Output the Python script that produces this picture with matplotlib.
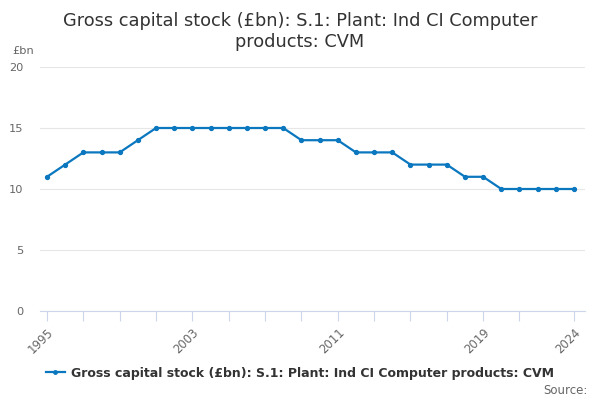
import matplotlib
matplotlib.use("Agg")
import matplotlib.pyplot as plt
from matplotlib.lines import Line2D

years = list(range(1995, 2025))
values = [11, 12, 13, 13, 13, 14, 15, 15, 15, 15, 15, 15, 15, 15, 14, 14, 14,
          13, 13, 13, 12, 12, 12, 11, 11, 10, 10, 10, 10, 10]
tick_years = list(range(1995, 2022, 2)) + [2024]
label_years = [1995, 2003, 2011, 2019, 2024]
y_ticks = [0, 5, 10, 15, 20]

title = "Gross capital stock (£bn): S.1: Plant: Ind CI Computer\nproducts: CVM"
series_name = "Gross capital stock (£bn): S.1: Plant: Ind CI Computer products: CVM"

plt.rcParams['font.family'] = ['DejaVu Sans']
color = '#0a77bf'

fig = plt.figure(figsize=(6, 4), dpi=100)
ax = fig.add_axes([40/600, 89/400, 545/600, 244/400])

ax.plot(years, values, color=color, lw=1.6, marker='o', ms=2.8, zorder=3)

ax.set_xlim(1995 - 7/18.17, 2024 + 11/18.17)
ax.set_ylim(0, 20)

ax.set_yticks(y_ticks)
ax.set_yticklabels([str(v) for v in y_ticks], color='#666666', fontsize=8.2)
ax.tick_params(axis='y', length=0, pad=12)
ax.grid(axis='y', color='#e6e6e6', lw=0.8)
ax.set_axisbelow(True)

ax.set_xticks(tick_years)
ax.set_xticklabels([str(y) if y in label_years else '' for y in tick_years],
                   rotation=45, ha='right', rotation_mode='anchor',
                   color='#666666', fontsize=8.4)
ax.tick_params(axis='x', length=7.5, color='#ccd6eb', width=0.8, pad=3)

for s in ['top', 'right', 'left']:
    ax.spines[s].set_visible(False)
ax.spines['bottom'].set_color('#ccd6eb')
ax.spines['bottom'].set_linewidth(0.8)

fig.text(0.5, 0.97, title, ha='center', va='top', fontsize=12.8, color='#333333',
         linespacing=1.2)
fig.text(12/600, 1 - 51/400, "£bn", ha='left', va='center', fontsize=8.2, color='#666666')

handle = Line2D([], [], color=color, lw=1.6, marker='o', ms=2.5)
leg = fig.legend([handle], [series_name], loc='center', bbox_to_anchor=(0.5, 1 - 373/400),
                 frameon=False, prop={'weight': 'bold', 'size': 9}, handlelength=1.5,
                 handletextpad=0.5)
for t in leg.get_texts():
    t.set_color('#333333')

fig.text(588/600, 1 - 390/400, "Source:", ha='right', va='center', fontsize=8.5, color='#666666')

fig.savefig('out.png', dpi=100)
